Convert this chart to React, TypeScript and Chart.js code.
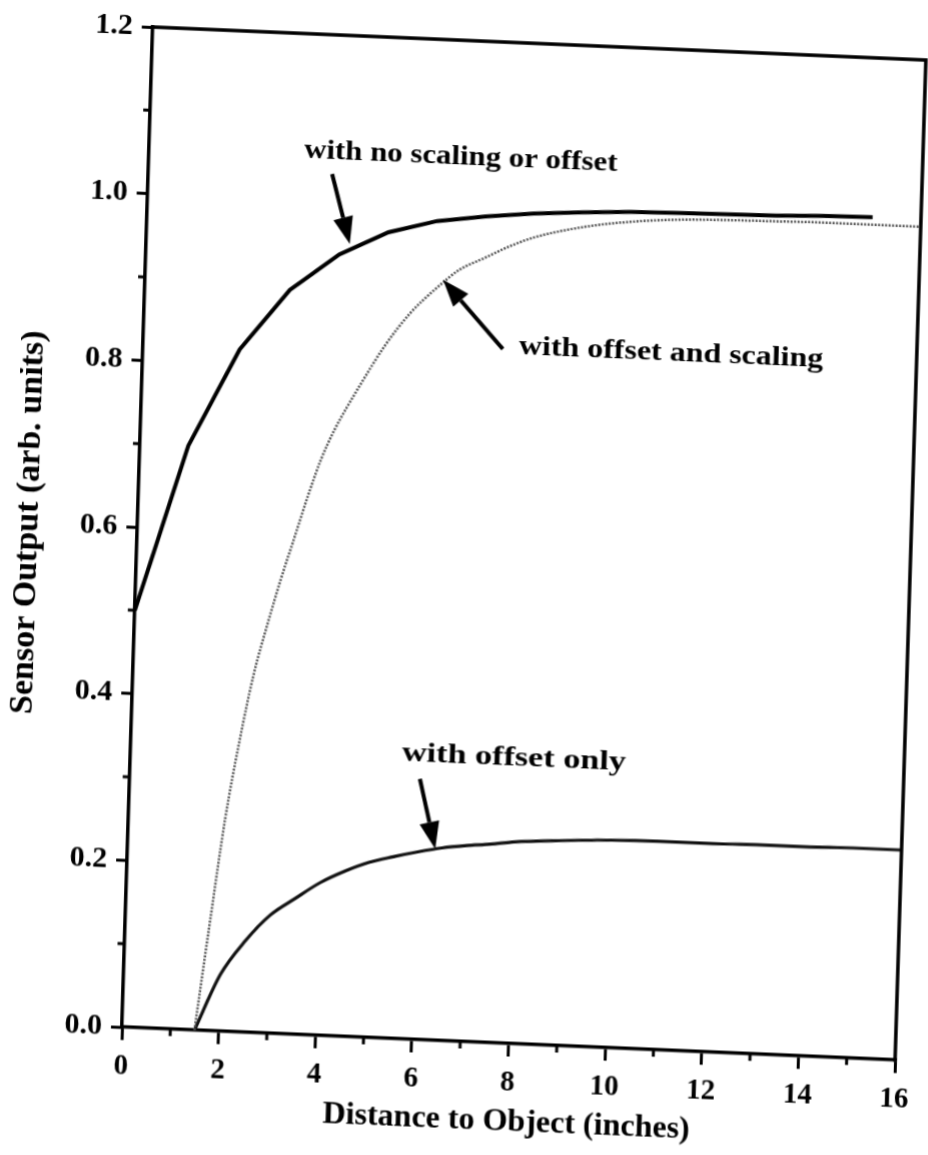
import React, { useEffect, useRef } from 'react';
import { Chart, registerables } from 'chart.js';

Chart.register(...registerables);

// ---- data ----
const noScaleX = [0, 1, 2, 3, 4, 5, 6, 7, 8, 9, 10, 11, 12, 13, 14, 15];
const noScaleY = [0.5, 0.7, 0.818, 0.892, 0.937, 0.966, 0.982, 0.99, 0.996, 1.0, 1.003, 1.004, 1.005, 1.006, 1.008, 1.009];

const offScaleX = [1.5, 1.75, 2.0, 2.25, 2.5, 2.75, 3.0, 3.25, 3.5, 3.75, 4.0, 4.5, 5.0, 5.5, 6.0, 6.5, 7.0, 7.5, 8.0, 9.0, 10, 11, 12, 13, 14, 15, 16];
const offScaleY = [0, 0.13, 0.255, 0.35, 0.43, 0.49, 0.545, 0.595, 0.645, 0.69, 0.725, 0.78, 0.83, 0.87, 0.9, 0.925, 0.94, 0.955, 0.967, 0.982, 0.991, 0.996, 0.998, 0.999, 1.0, 1.0, 1.0];

const offOnlyX = [1.5, 2, 2.5, 3, 3.5, 4, 4.5, 5, 5.5, 6, 6.5, 7, 7.5, 8, 9, 10, 11, 12, 13, 14, 15, 16];
const offOnlyY = [0, 0.068, 0.11, 0.142, 0.163, 0.183, 0.198, 0.21, 0.218, 0.225, 0.231, 0.235, 0.238, 0.242, 0.246, 0.249, 0.25, 0.25, 0.251, 0.251, 0.252, 0.252];

const xMinorTicks = [1, 3, 5, 7, 9, 11, 13, 15];
const yMinorTicks = [0.1, 0.3, 0.5, 0.7, 0.9, 1.1];

const labelTexts = ['with no scaling or offset', 'with offset and scaling', 'with offset only'];
const labelAnchors = [
  [6.45, 1.06],
  [10.92, 0.835],
  [7.93, 0.342],
];
const labelStretch = [1.1, 1.14, 1.22];
const arrowTails = [
  [3.8, 1.033],
  [7.44, 0.832],
  [6.0, 0.3126],
];
const arrowTips = [
  [4.21, 0.95],
  [6.16, 0.912],
  [6.36, 0.2296],
];

const FONT = "'Liberation Serif', 'Times New Roman', serif";

const toPts = (xs: number[], ys: number[]) => xs.map((x, i) => ({ x, y: ys[i] }));

const framePlugin = {
  id: 'frameAndMinor',
  afterDraw(chart: any) {
    const { ctx, chartArea } = chart;
    const xs = chart.scales.x;
    const ys = chart.scales.y;
    ctx.save();
    ctx.strokeStyle = '#000';
    ctx.lineCap = 'butt';
    ctx.lineWidth = 3.5;
    ctx.beginPath();
    ctx.moveTo(chartArea.left - 1.75, chartArea.top);
    ctx.lineTo(chartArea.right, chartArea.top);
    ctx.lineTo(chartArea.right, chartArea.bottom + 1.75);
    ctx.stroke();
    ctx.lineWidth = 3;
    ctx.beginPath();
    for (const v of xMinorTicks) {
      const px = xs.getPixelForValue(v);
      ctx.moveTo(px, chartArea.bottom);
      ctx.lineTo(px, chartArea.bottom + 7);
    }
    for (const v of yMinorTicks) {
      const py = ys.getPixelForValue(v);
      ctx.moveTo(chartArea.left - 7, py);
      ctx.lineTo(chartArea.left, py);
    }
    ctx.stroke();
    ctx.restore();
  },
};

const annotationPlugin = {
  id: 'annotations',
  afterDatasetsDraw(chart: any) {
    const { ctx } = chart;
    const xs = chart.scales.x;
    const ys = chart.scales.y;
    ctx.save();
    ctx.fillStyle = '#000';
    ctx.strokeStyle = '#000';
    ctx.font = `bold 28px ${FONT}`;
    ctx.textAlign = 'center';
    ctx.textBaseline = 'middle';
    labelTexts.forEach((t, i) => {
      ctx.save();
      ctx.translate(xs.getPixelForValue(labelAnchors[i][0]), ys.getPixelForValue(labelAnchors[i][1]));
      ctx.scale(labelStretch[i], 1);
      ctx.fillText(t, 0, 0);
      ctx.restore();
    });
    arrowTails.forEach((tail, i) => {
      const x0 = xs.getPixelForValue(tail[0]);
      const y0 = ys.getPixelForValue(tail[1]);
      const x1 = xs.getPixelForValue(arrowTips[i][0]);
      const y1 = ys.getPixelForValue(arrowTips[i][1]);
      const ang = Math.atan2(y1 - y0, x1 - x0);
      const headLen = 27;
      const headHalf = 10;
      const bx = x1 - headLen * Math.cos(ang);
      const by = y1 - headLen * Math.sin(ang);
      ctx.lineWidth = 4;
      ctx.beginPath();
      ctx.moveTo(x0, y0);
      ctx.lineTo(bx, by);
      ctx.stroke();
      ctx.beginPath();
      ctx.moveTo(x1, y1);
      ctx.lineTo(bx + headHalf * Math.sin(ang), by - headHalf * Math.cos(ang));
      ctx.lineTo(bx - headHalf * Math.sin(ang), by + headHalf * Math.cos(ang));
      ctx.closePath();
      ctx.fill();
    });
    ctx.restore();
  },
};

export default function App() {
  const ref = useRef<HTMLCanvasElement | null>(null);

  useEffect(() => {
    if (!ref.current) return;
    const chart = new Chart(ref.current, {
      type: 'line',
      data: {
        datasets: [
          {
            label: 'with no scaling or offset',
            data: toPts(noScaleX, noScaleY),
            borderColor: '#000',
            borderWidth: 4,
            pointRadius: 0,
            tension: 0,
            fill: false,
          },
          {
            label: 'with offset and scaling',
            data: toPts(offScaleX, offScaleY),
            borderColor: '#555',
            borderWidth: 2.5,
            borderDash: [2, 1.5],
            pointRadius: 0,
            cubicInterpolationMode: 'monotone',
            fill: false,
          },
          {
            label: 'with offset only',
            data: toPts(offOnlyX, offOnlyY),
            borderColor: '#111',
            borderWidth: 3.2,
            pointRadius: 0,
            cubicInterpolationMode: 'monotone',
            fill: false,
          },
        ],
      },
      options: {
        animation: false,
        responsive: false,
        maintainAspectRatio: false,
        events: [],
        layout: { padding: { left: 0, top: 21, right: 33, bottom: 33.5 } },
        plugins: {
          legend: { display: false },
          tooltip: { enabled: false },
        },
        scales: {
          x: {
            type: 'linear',
            min: 0,
            max: 16,
            ticks: {
              stepSize: 2,
              color: '#000',
              font: { family: FONT, size: 29, weight: 'bold' },
              padding: 9,
              maxRotation: 0,
              autoSkip: false,
            },
            grid: {
              drawOnChartArea: false,
              drawTicks: true,
              tickLength: 13,
              tickWidth: 3,
              tickColor: '#000',
              lineWidth: 3,
              color: '#000',
            },
            border: { display: true, color: '#000', width: 3.5 },
            title: {
              display: true,
              text: 'Distance to Object (inches)',
              color: '#000',
              font: { family: FONT, size: 32, weight: 'bold', lineHeight: 1 },
              padding: 0,
            },
            afterFit(s: any) {
              s.height = 94.5;
            },
          },
          y: {
            type: 'linear',
            min: 0,
            max: 1.2,
            ticks: {
              stepSize: 0.2,
              color: '#000',
              font: { family: FONT, size: 30, weight: 'bold' },
              padding: 9,
              callback: (v: any) => Number(v).toFixed(1),
            },
            grid: {
              drawOnChartArea: false,
              drawTicks: true,
              tickLength: 11,
              tickWidth: 3,
              tickColor: '#000',
              lineWidth: 3,
              color: '#000',
            },
            border: { display: true, color: '#000', width: 3.5 },
            title: {
              display: true,
              text: 'Sensor Output (arb. units)',
              color: '#000',
              font: { family: FONT, size: 34, weight: 'bold', lineHeight: 0.8 },
              padding: 0,
            },
            afterFit(s: any) {
              s.width = 122;
            },
          },
        },
      },
      plugins: [framePlugin, annotationPlugin],
    } as any);
    return () => chart.destroy();
  }, []);

  return (
    <div style={{ position: 'absolute', left: 0, top: 0, width: 928, height: 1155, overflow: 'hidden', background: '#fff' }}>
      <canvas
        ref={ref}
        width={928}
        height={1155}
        style={{
          display: 'block',
          width: 928,
          height: 1155,
          transformOrigin: '122px 1027px',
          transform: 'matrix(1, 0.0427, -0.0308, 1, 0, 0)',
        }}
      />
    </div>
  );
}
